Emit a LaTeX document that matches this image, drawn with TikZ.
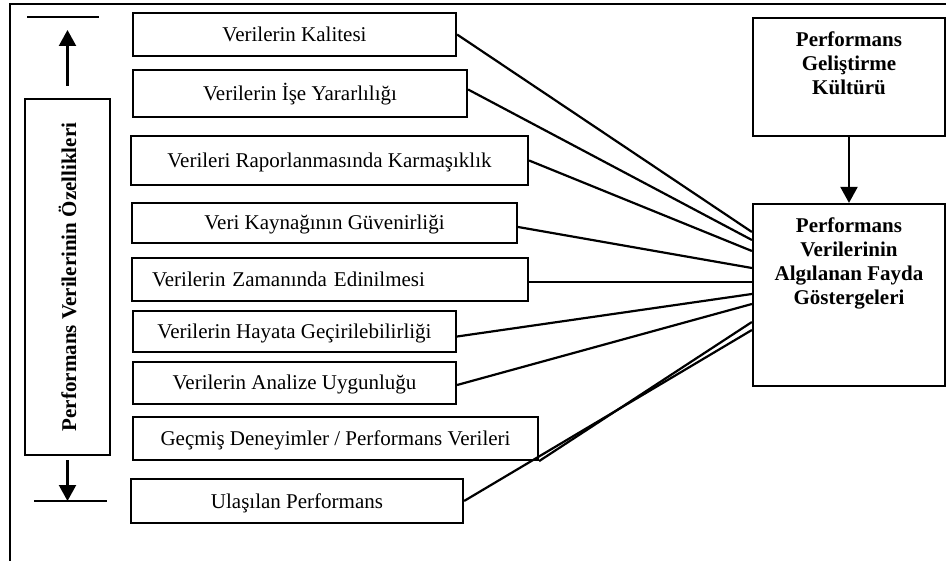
\documentclass[tikz,border=0pt]{standalone}
\usepackage{fontspec}
\setmainfont{Liberation Serif}
\usepackage{graphicx}
\usepackage{tikz}
\usetikzlibrary{arrows.meta,positioning}

\begin{document}
\begin{tikzpicture}[x=1pt,y=-1pt]
			\tikzstyle{Kutu}	= [draw, line width=2.2pt, inner sep=0pt, text height=14pt, text depth=0pt, font=\fontsize{21}{24}\selectfont]
			\tikzstyle{Buyuk}	= [draw, line width=2.2pt, minimum width=192pt]
			\tikzstyle{Baslik}	= [anchor=north, yshift=-11pt, align=center, font=\fontsize{21}{24}\selectfont\bfseries]
			\tikzstyle{Bag}		= [line width=2.2pt]
			\tikzstyle{Ok}		= [line width=2.2pt, -{Triangle[width=17pt,length=16pt]}]
			\tikzstyle{Cizgi}	= [line width=1.8pt]

			\useasboundingbox (0,0) rectangle (946,561);
			\draw [Cizgi] (10,561) -- (10,4) -- (946,4);

			% sol kutular
			\node (k1) at (294.5,34.5) [Kutu, minimum width=323pt, minimum height=43pt] {Verilerin Kalitesi};
			\node (k2) at (300,93.5) [Kutu, minimum width=334pt, minimum height=47pt] {Verilerin İşe Yararlılığı};
			\node (k3) at (329.5,160.5) [Kutu, minimum width=397pt, minimum height=49pt] {Verileri Raporlanmasında Karmaşıklık};
			\node (k4) at (324.5,223) [Kutu, minimum width=385pt, minimum height=40pt] {Veri Kaynağının Güvenirliği};
			\node (k5) at (330,279.5) [Kutu, minimum height=43pt, text width=356pt, inner xsep=20pt, align=left] {Verilerin Zamanında Edinilmesi};
			\node (k6) at (294.5,331.5) [Kutu, minimum width=323pt, minimum height=41pt] {Verilerin Hayata Geçirilebilirliği};
			\node (k7) at (294.5,383) [Kutu, minimum width=323pt, minimum height=42pt] {Verilerin Analize Uygunluğu};
			\node (k8) at (335.5,438.5) [Kutu, minimum width=405pt, minimum height=43pt] {Geçmiş Deneyimler / Performans Verileri};
			\node (k9) at (297,501) [Kutu, minimum width=332pt, minimum height=44pt] {Ulaşılan Performans};

			% dikey kutu ve oklar
			\node (ozellik) at (67.5,277) [draw, line width=2.2pt, minimum width=85pt, minimum height=356pt, inner sep=0pt, font=\fontsize{21}{24}\selectfont\bfseries] {\rotatebox{90}{Performans Verilerinin Özellikleri}};
			\coordinate (ust1) at (27,17);
			\coordinate (ust2) at (99,17);
			\coordinate (ustuc) at (67.5,30);
			\coordinate (alt1) at (34,501);
			\coordinate (alt2) at (107,501);
			\coordinate (altuc) at (67.5,501);
			\draw [Cizgi] (ust1) -- (ust2);
			\draw [Cizgi] (alt1) -- (alt2);
			\draw [Ok, shorten <=12pt] (ozellik.north) -- (ustuc);
			\draw [Ok, shorten <=4pt] (ozellik.south) -- (altuc);

			% sag kutular
			\node (kultur) at (849,77) [Buyuk, minimum height=118pt, label={[name=kulturyazi, Baslik]north:{Performans\\Geliştirme\\Kültürü}}] {};
			\node (gosterge) at (849,295) [Buyuk, minimum height=182pt, label={[name=gostergeyazi, Baslik]north:{Performans\\Verilerinin\\Algılanan Fayda\\Göstergeleri}}] {};
			\draw [Ok] (kultur) -- (gosterge);

			\draw [-] (k1.east) to ([yshift=63pt]gosterge.west) [Bag];
			\draw [-] ([yshift=4pt]k2.east) to ([yshift=55pt]gosterge.west) [Bag];
			\draw [-] (k3.east) to ([yshift=44pt]gosterge.west) [Bag];
			\draw [-] ([yshift=-4pt]k4.east) to ([yshift=27pt]gosterge.west) [Bag];
			\draw [-] ([yshift=-2.5pt]k5.east) to ([yshift=13pt]gosterge.west) [Bag];
			\draw [-] ([yshift=-5pt]k6.east) to ([yshift=1pt]gosterge.west) [Bag];
			\draw [-] ([yshift=-2pt]k7.east) to ([yshift=-9pt]gosterge.west) [Bag];
			\draw [-] (k8.south east) to ([yshift=-27pt]gosterge.west) [Bag];
			\draw [-] (k9.east) to ([yshift=-35pt]gosterge.west) [Bag];

		\end{tikzpicture}
\end{document}
